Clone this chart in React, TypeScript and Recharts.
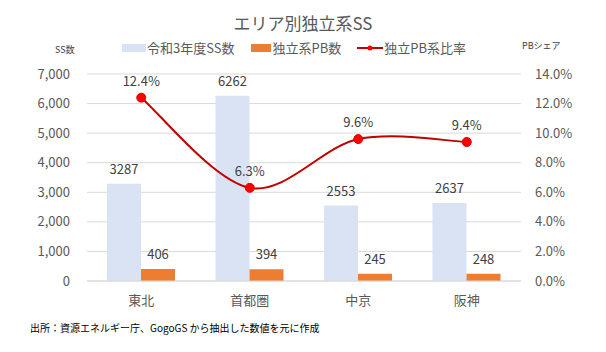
import {
  Bar,
  CartesianGrid,
  ComposedChart,
  LabelList,
  Line,
  XAxis,
  YAxis,
} from "recharts";

const areas = ["東北", "首都圏", "中京", "阪神"];
const totalSS = [3287, 6262, 2553, 2637];
const pbSS = [406, 394, 245, 248];
const pbShare = [12.4, 6.3, 9.6, 9.4];

const leftTicks = [0, 1000, 2000, 3000, 4000, 5000, 6000, 7000];
const rightTicks = [0, 2, 4, 6, 8, 10, 12, 14];

const data = areas.map((area, i) => ({
  area,
  total: totalSS[i],
  pb: pbSS[i],
  share: pbShare[i],
}));

const font = '"Noto Sans CJK JP", "Noto Sans", sans-serif';
const axisTick = { fill: "#595959", fontSize: 13, fontFamily: font };
const labelStyle = { fill: "#404040", fontSize: 13, fontFamily: font };

// Excel-like smoothed line (Catmull-Rom through the points)
function smoothCurve(context: any) {
  let pts: number[][] = [];
  return {
    areaStart() {},
    areaEnd() {},
    lineStart() {
      pts = [];
    },
    point(x: number, y: number) {
      pts.push([+x, +y]);
    },
    lineEnd() {
      if (!pts.length) return;
      context.moveTo(pts[0][0], pts[0][1]);
      for (let i = 0; i < pts.length - 1; i++) {
        const p0 = pts[i - 1] || pts[i];
        const p1 = pts[i];
        const p2 = pts[i + 1];
        const p3 = pts[i + 2] || pts[i + 1];
        context.bezierCurveTo(
          p1[0] + (p2[0] - p0[0]) / 6,
          p1[1] + (p2[1] - p0[1]) / 6,
          p2[0] - (p3[0] - p1[0]) / 6,
          p2[1] - (p3[1] - p1[1]) / 6,
          p2[0],
          p2[1]
        );
      }
    },
  };
}

function LegendBox() {
  const item = { display: "flex", alignItems: "center", marginRight: 16 };
  return (
    <div
      style={{
        position: "absolute",
        top: 38,
        left: 122,
        display: "flex",
        alignItems: "center",
        fontFamily: font,
        fontSize: 13,
        color: "#595959",
      }}
    >
      <span style={item}>
        <span style={{ width: 24, height: 8, background: "#DAE3F3", marginRight: 1 }} />
        令和3年度SS数
      </span>
      <span style={item}>
        <span style={{ width: 20, height: 8, background: "#ED7D31", marginRight: 2 }} />
        独立系PB数
      </span>
      <span style={item}>
        <svg width={26} height={10} style={{ marginRight: 1 }}>
          <line x1={0} y1={5} x2={26} y2={5} stroke="#C00000" strokeWidth={2} />
          <circle cx={13} cy={5} r={2.5} fill="#FF0000" />
        </svg>
        独立PB系比率
      </span>
    </div>
  );
}

export default function App() {
  return (
    <div style={{ position: "absolute", left: 0, top: 0, width: 606, height: 352, background: "#fff" }}>
      <ComposedChart
        width={606}
        height={352}
        data={data}
        margin={{ top: 74, right: 0, bottom: 41, left: 0 }}
        barGap={0}
        style={{ position: "absolute", left: 0, top: 0 }}
      >
        <CartesianGrid stroke="#D9D9D9" vertical={false} yAxisId="left" />
        <XAxis
          dataKey="area"
          tick={axisTick}
          tickLine={false}
          tickSize={0}
          tickMargin={15}
          axisLine={{ stroke: "#D9D9D9" }}
          height={30}
        />
        <YAxis
          yAxisId="left"
          domain={[0, 7000]}
          ticks={leftTicks}
          tickFormatter={(v: number) => v.toLocaleString("en-US")}
          tick={axisTick}
          tickLine={false}
          tickSize={0}
          tickMargin={17}
          axisLine={false}
          width={87}
        />
        <YAxis
          yAxisId="right"
          orientation="right"
          domain={[0, 14]}
          ticks={rightTicks}
          tickFormatter={(v: number) => v.toFixed(1) + "%"}
          tick={axisTick}
          tickLine={false}
          tickSize={0}
          tickMargin={14}
          axisLine={false}
          width={85}
        />
        <Bar yAxisId="left" dataKey="total" fill="#DAE3F3" barSize={34} isAnimationActive={false}>
          <LabelList dataKey="total" position="top" offset={10} style={labelStyle} />
        </Bar>
        <Bar yAxisId="left" dataKey="pb" fill="#ED7D31" barSize={34} isAnimationActive={false}>
          <LabelList dataKey="pb" position="top" offset={10} style={labelStyle} />
        </Bar>
        <Line
          yAxisId="right"
          type={smoothCurve as any}
          dataKey="share"
          stroke="#C00000"
          strokeWidth={2}
          dot={{ r: 4.5, fill: "#FF0000", stroke: "#E00000", strokeWidth: 1 }}
          isAnimationActive={false}
        >
          <LabelList
            dataKey="share"
            position="top"
            offset={12}
            formatter={(v: number) => v.toFixed(1) + "%"}
            style={labelStyle}
          />
        </Line>
      </ComposedChart>
      <div
        style={{
          position: "absolute",
          top: 10,
          width: 606,
          textAlign: "center",
          fontFamily: font,
          fontSize: 17,
          color: "#595959",
        }}
      >
        エリア別独立系SS
      </div>
      <LegendBox />
      <div style={{ position: "absolute", left: 55, top: 43, fontFamily: font, fontSize: 9, color: "#404040" }}>
        SS数
      </div>
      <div style={{ position: "absolute", left: 522, top: 39, fontFamily: font, fontSize: 9, color: "#404040" }}>
        PBシェア
      </div>
      <div
        style={{
          position: "absolute",
          left: 30,
          top: 320,
          fontFamily: font,
          fontSize: 10,
          color: "#000",
        }}
      >
        出所：資源エネルギー庁、GogoGS から抽出した数値を元に作成
      </div>
    </div>
  );
}
